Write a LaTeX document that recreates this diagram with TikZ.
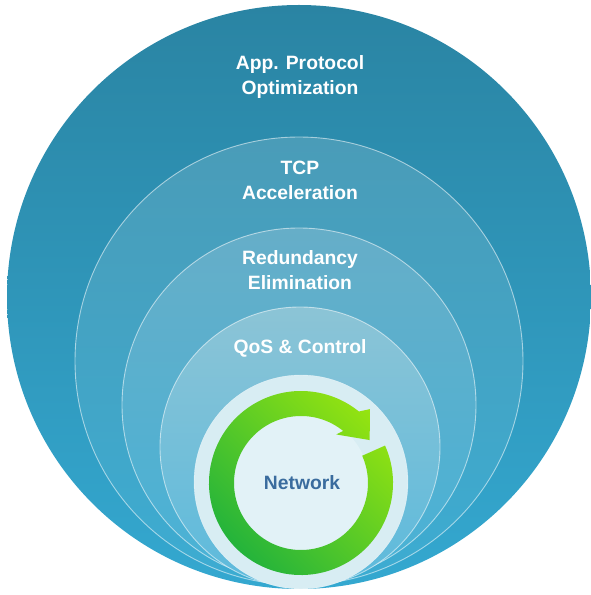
\documentclass[tikz,border=0pt]{standalone}
\usepackage{fontspec}
\setmainfont{Liberation Sans}
\definecolor{layerA}{RGB}{42,132,163}
\definecolor{layerAb}{RGB}{52,168,208}
\definecolor{layerB}{RGB}{74,156,184}
\definecolor{layerBb}{RGB}{60,172,210}
\definecolor{layerC}{RGB}{102,174,200}
\definecolor{layerCb}{RGB}{72,178,214}
\definecolor{layerD}{RGB}{140,196,214}
\definecolor{layerDb}{RGB}{92,186,220}
\definecolor{core}{RGB}{216,237,243}
\definecolor{coreIn}{RGB}{226,242,247}
\definecolor{ringDark}{RGB}{28,176,62}
\definecolor{ringLight}{RGB}{150,228,16}
\definecolor{netText}{RGB}{58,108,158}

\begin{document}
\begin{tikzpicture}[x=1pt,y=1pt,
    layer/.style={draw=white,draw opacity=0.55,line width=0.9pt},
    lbl/.style={text=white,font=\fontsize{19.3}{25}\selectfont\bfseries,align=center}]
  \useasboundingbox (0,0) rectangle (590,595);

  \shade[top color=layerA,bottom color=layerAb] (299,298) circle (292);
  \shade[layer,top color=layerB,bottom color=layerBb] (299,234) circle (224);
  \shade[layer,top color=layerC,bottom color=layerCb] (299,190) circle (177);
  \shade[layer,top color=layerD,bottom color=layerDb] (300,148) circle (140);
  \fill[core,draw=white,draw opacity=0.5] (301,113) circle (107);
  \fill[coreIn] (301,112) circle (68);

  \begin{scope}[shift={(301,112)}]
    \shade[top color=ringLight,bottom color=ringDark,shading angle=-45]
      (24:92) arc[start angle=24,end angle=-309,radius=92]
      -- (47:101) -- (32:81) -- (54:60) -- (51:67)
      arc[start angle=51,end angle=384,radius=67] -- cycle;
  \end{scope}

  \node[lbl] (app) at (300,517.5) {App. Protocol\\Optimization};
  \node[lbl] (tcp) at (300,415) {TCP\\Acceleration};
  \node[lbl] (red) at (300,324.5) {Redundancy\\Elimination};
  \node[lbl] (qos) at (300,247) {QoS \& Control};
  \node[lbl,text=netText] (net) at (302,112) {Network};
\end{tikzpicture}
\end{document}
